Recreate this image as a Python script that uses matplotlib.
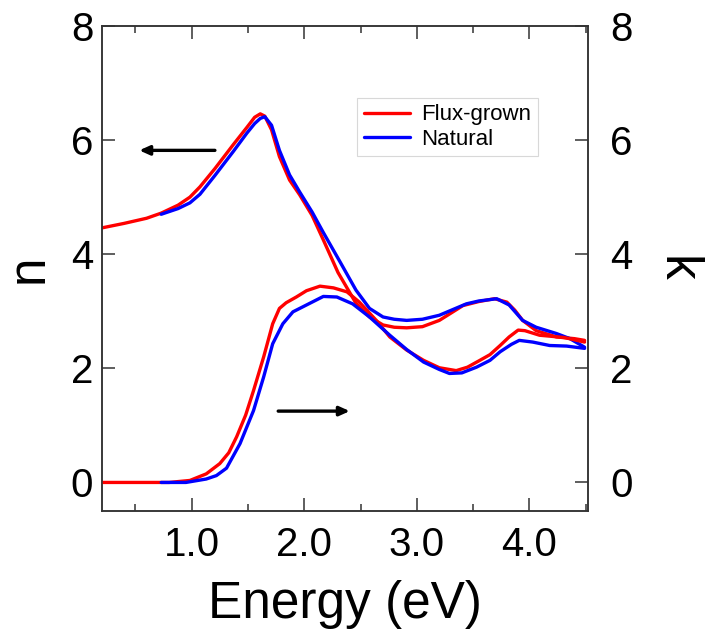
import matplotlib
matplotlib.use('Agg')
import numpy as np
import matplotlib.pyplot as plt

matplotlib.rcParams['font.family'] = ['Liberation Sans', 'DejaVu Sans']

# refractive index n, flux-grown sample
E_n_flux = [0.20, 0.40, 0.60, 0.73, 0.88, 0.985, 1.074, 1.207, 1.37, 1.49, 1.56, 1.61,
            1.65, 1.71, 1.78, 1.87, 1.96, 2.07, 2.17, 2.30, 2.46, 2.58, 2.70, 2.80,
            2.91, 3.05, 3.20, 3.41, 3.55, 3.69, 3.80, 3.87, 3.94, 4.06, 4.24, 4.40, 4.49]
n_flux = [4.46, 4.54, 4.63, 4.72, 4.86, 5.00, 5.18, 5.50, 5.92, 6.22, 6.40, 6.46,
          6.42, 6.18, 5.71, 5.30, 5.04, 4.68, 4.25, 3.68, 3.14, 2.90, 2.76, 2.72,
          2.71, 2.73, 2.84, 3.10, 3.17, 3.22, 3.16, 3.02, 2.84, 2.66, 2.55, 2.52, 2.49]

# refractive index n, natural sample
E_n_nat = [0.73, 0.88, 0.985, 1.074, 1.207, 1.37, 1.49, 1.56, 1.61, 1.65, 1.71, 1.78,
           1.87, 1.96, 2.07, 2.17, 2.32, 2.46, 2.58, 2.70, 2.80, 2.91, 3.05, 3.20,
           3.44, 3.55, 3.71, 3.82, 3.94, 4.06, 4.24, 4.36, 4.49]
n_nat = [4.70, 4.80, 4.90, 5.05, 5.38, 5.80, 6.12, 6.29, 6.38, 6.41, 6.26, 5.82,
         5.39, 5.09, 4.74, 4.38, 3.86, 3.37, 3.05, 2.90, 2.86, 2.84, 2.86, 2.93,
         3.13, 3.18, 3.22, 3.11, 2.84, 2.72, 2.61, 2.52, 2.37]

# extinction coefficient k, flux-grown sample
E_k_flux = [0.20, 0.80, 0.985, 1.13, 1.25, 1.33, 1.40, 1.48, 1.55, 1.64, 1.72, 1.78,
            1.84, 1.93, 2.02, 2.14, 2.26, 2.38, 2.49, 2.64, 2.76, 2.91, 3.06, 3.20,
            3.35, 3.45, 3.56, 3.65, 3.74, 3.82, 3.90, 3.96, 4.09, 4.31, 4.49]
k_flux = [0.00, 0.00, 0.035, 0.15, 0.33, 0.52, 0.80, 1.18, 1.61, 2.20, 2.78, 3.05,
          3.15, 3.25, 3.36, 3.44, 3.41, 3.34, 3.16, 2.84, 2.55, 2.32, 2.14, 2.01,
          1.96, 2.02, 2.14, 2.24, 2.40, 2.55, 2.67, 2.66, 2.58, 2.54, 2.46]

# extinction coefficient k, natural sample
E_k_nat = [0.73, 0.95, 1.13, 1.22, 1.31, 1.43, 1.55, 1.64, 1.72, 1.81, 1.90, 2.02,
           2.17, 2.29, 2.43, 2.58, 2.67, 2.76, 2.91, 3.06, 3.20, 3.29, 3.40, 3.53,
           3.65, 3.74, 3.84, 3.91, 4.03, 4.18, 4.33, 4.49]
k_nat = [0.00, 0.00, 0.06, 0.12, 0.25, 0.68, 1.26, 1.85, 2.43, 2.78, 2.99, 3.11,
         3.26, 3.25, 3.13, 2.90, 2.74, 2.58, 2.33, 2.11, 1.98, 1.91, 1.92, 2.02,
         2.14, 2.29, 2.42, 2.49, 2.46, 2.40, 2.39, 2.35]

labels = ['Flux-grown', 'Natural']
colors = ['#ff0000', '#0000ff']

fig = plt.figure(figsize=(7.06, 6.32), dpi=100)
ax = fig.add_axes([0.1438, 0.1915, 0.689, 0.7674])
ax2 = ax.twinx()

lstyle = dict(linewidth=2.4, solid_joinstyle='round', solid_capstyle='round')
l1, = ax.plot(E_n_flux, n_flux, '-', color=colors[0], label=labels[0], **lstyle)
l2, = ax.plot(E_n_nat, n_nat, '-', color=colors[1], label=labels[1], **lstyle)
ax2.plot(E_k_flux, k_flux, '-', color=colors[0], **lstyle)
ax2.plot(E_k_nat, k_nat, '-', color=colors[1], **lstyle)

ax.set_xlim(0.2, 4.52)
ax.set_ylim(-0.5, 8)
ax2.set_ylim(-0.5, 8)
ax.set_xticks([1.0, 2.0, 3.0, 4.0])
ax.set_xticklabels(['1.0', '2.0', '3.0', '4.0'])
ax.set_xticks(np.arange(0.5, 4.51, 1.0), minor=True)
ax.set_yticks([0, 2, 4, 6, 8])
ax2.set_yticks([0, 2, 4, 6, 8])

spine_col = '#333333'
for a in (ax, ax2):
    for s in a.spines.values():
        s.set_color(spine_col)
        s.set_linewidth(1.1)
ax.tick_params(axis='x', which='major', direction='in', length=9.5, width=1.1,
               color=spine_col, labelsize=29, pad=11, top=True)
ax.tick_params(axis='x', which='minor', direction='in', length=5, width=1.1,
               color=spine_col, top=True)
ax.tick_params(axis='y', which='major', direction='in', length=9.5, width=1.1,
               color=spine_col, labelsize=29, pad=6)
ax2.tick_params(axis='y', which='major', direction='in', length=9.5, width=1.1,
                color=spine_col, labelsize=29, pad=16)

ax.set_xlabel('Energy (eV)', fontsize=37)
ax.xaxis.set_label_coords(0.5, -0.143)
ax.set_ylabel('n', fontsize=37, va='center')
ax.yaxis.set_label_coords(-0.149, 0.5)
ax2.set_ylabel('k', fontsize=37, va='center', rotation=-90)
ax2.yaxis.set_label_coords(1.18, 0.5)

# direction arrows (n -> left axis, k -> right axis)
ax.annotate('', xy=(0.535, 5.82), xytext=(1.207, 5.82),
            arrowprops=dict(arrowstyle='-|>,head_length=0.6,head_width=0.27',
                            color='k', lw=2.4, shrinkA=0, shrinkB=0))
ax.annotate('', xy=(2.405, 1.25), xytext=(1.769, 1.25),
            arrowprops=dict(arrowstyle='-|>,head_length=0.6,head_width=0.27',
                            color='k', lw=2.4, shrinkA=0, shrinkB=0))

leg = ax2.legend(handles=[l1, l2], loc='upper left', bbox_to_anchor=(0.525, 0.852),
                 fontsize=16, handlelength=2.1, handletextpad=0.5, labelspacing=0.15,
                 borderpad=0.3, borderaxespad=0, fancybox=False, framealpha=1)
leg.get_frame().set_edgecolor('#d8d8d8')
leg.get_frame().set_linewidth(0.8)

plt.savefig('out.png', dpi=100)
